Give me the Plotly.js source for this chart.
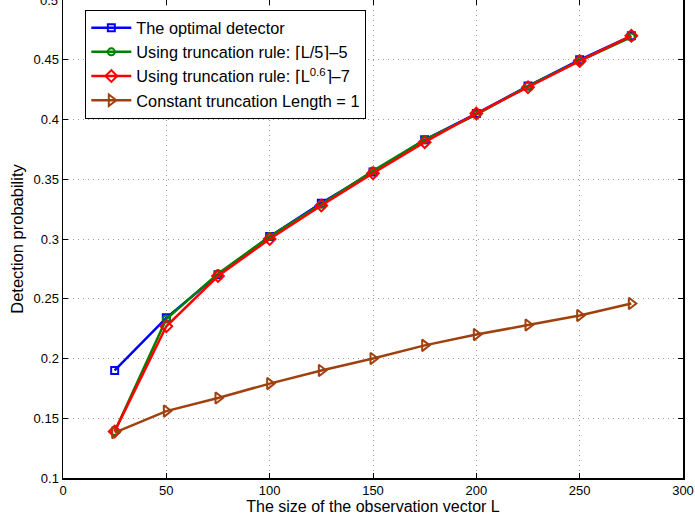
<!DOCTYPE html>
<html>
<head>
<meta charset="utf-8">
<script src="https://cdn.plot.ly/plotly-3.0.1.min.js"></script>
<style>html,body{margin:0;padding:0;background:#fff}#chart{width:695px;height:524px}</style>
</head>
<body>
<div id="chart"></div>
<script>
const L = [25, 50, 75, 100, 125, 150, 175, 200, 225, 250, 275];
const optimal = [0.190, 0.234, 0.270, 0.302, 0.330, 0.356, 0.383, 0.405, 0.428, 0.450, 0.470];
const ruleL5 = [0.139, 0.233, 0.271, 0.302, 0.329, 0.357, 0.383, 0.404, 0.428, 0.449, 0.469];
const ruleL06 = [0.139, 0.227, 0.269, 0.300, 0.328, 0.355, 0.381, 0.405, 0.427, 0.449, 0.470];
const constant1 = [0.138, 0.156, 0.167, 0.179, 0.190, 0.200, 0.211, 0.220, 0.228, 0.236, 0.246];
const names = [
  'The optimal detector',
  'Using truncation rule: ⌈L/5⌉–5',
  'Using truncation rule: ⌈L<sup>0.6</sup>⌉–7',
  'Constant truncation Length = 1'
];
const xTicks = [0, 50, 100, 150, 200, 250, 300];
const yTicks = [0.1, 0.15, 0.2, 0.25, 0.3, 0.35, 0.4, 0.45];
const yTopLabel = '0.5';

const FONT = 'Liberation Sans, Arial, sans-serif';
const series = [
  {y: optimal, color: '#0000ff', symbol: 'square-open', size: 7},
  {y: ruleL5, color: '#008000', symbol: 'circle-open', size: 7},
  {y: ruleL06, color: '#ff0000', symbol: 'diamond-open', size: 9},
  {y: constant1, color: '#a0410d', symbol: 'triangle-right-open', size: 10}
];
const traces = series.map((s, i) => ({
  x: L, y: s.y, name: names[i], type: 'scatter', mode: 'lines+markers',
  line: {color: s.color, width: 2.5},
  marker: {symbol: s.symbol, size: s.size, color: s.color, line: {color: s.color, width: 2}}
}));

const axisCommon = {
  showline: true, mirror: 'ticks', linecolor: '#000', linewidth: 1.5,
  ticks: 'inside', ticklen: 5, tickcolor: '#000', tickwidth: 1,
  showgrid: true, gridcolor: '#9a9a9a', griddash: '1px,4px', gridwidth: 1,
  zeroline: false, tickfont: {family: FONT, size: 13, color: '#000'}
};

const layout = {
  width: 695, height: 524,
  margin: {l: 63, r: 12, t: 0, b: 46},
  paper_bgcolor: '#fff', plot_bgcolor: '#fff',
  showlegend: true,
  legend: {
    x: 0.036, y: 0.98, xanchor: 'left', yanchor: 'top',
    bgcolor: '#fff', bordercolor: '#000', borderwidth: 1,
    font: {family: FONT, size: 16.3, color: '#000'},
    tracegroupgap: 0, itemwidth: 40
  },
  xaxis: Object.assign({}, axisCommon, {
    range: [0, 300], tickvals: xTicks, ticktext: xTicks.map(String),
    title: {text: 'The size of the observation vector L', font: {family: FONT, size: 16, color: '#000'}, standoff: 1}
  }),
  yaxis: Object.assign({}, axisCommon, {
    range: [0.1, 0.5], tickvals: yTicks.concat([0.5]), ticktext: yTicks.map(v => String(v)).concat(['']),
    title: {text: 'Detection probability', font: {family: FONT, size: 16.5, color: '#000'}, standoff: 6}
  }),
  annotations: [{
    xref: 'paper', yref: 'paper', x: 0, y: 1, xanchor: 'right', yanchor: 'middle',
    xshift: -3, text: yTopLabel, showarrow: false, font: {family: FONT, size: 13, color: '#000'}
  }]
};

Plotly.newPlot('chart', traces, layout, {displayModeBar: false, staticPlot: true});
</script>
</body>
</html>
